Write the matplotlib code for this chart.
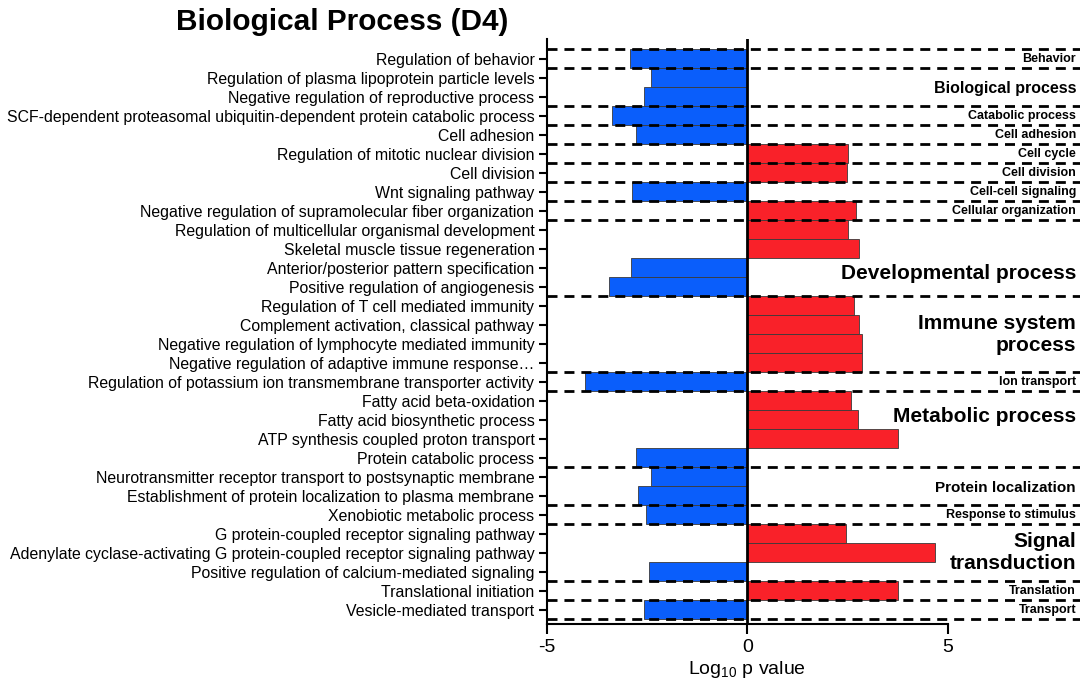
import matplotlib
matplotlib.use("Agg")
import matplotlib.pyplot as plt

plt.rcParams['font.family'] = ['Liberation Sans', 'DejaVu Sans']
plt.rcParams['mathtext.default'] = 'regular'
plt.rcParams['axes.unicode_minus'] = False

# GO terms, top to bottom
terms = [
    "Regulation of behavior",
    "Regulation of plasma lipoprotein particle levels",
    "Negative regulation of reproductive process",
    "SCF-dependent proteasomal ubiquitin-dependent protein catabolic process",
    "Cell adhesion",
    "Regulation of mitotic nuclear division",
    "Cell division",
    "Wnt signaling pathway",
    "Negative regulation of supramolecular fiber organization",
    "Regulation of multicellular organismal development",
    "Skeletal muscle tissue regeneration",
    "Anterior/posterior pattern specification",
    "Positive regulation of angiogenesis",
    "Regulation of T cell mediated immunity",
    "Complement activation, classical pathway",
    "Negative regulation of lymphocyte mediated immunity",
    "Negative regulation of adaptive immune response\u2026",
    "Regulation of potassium ion transmembrane transporter activity",
    "Fatty acid beta-oxidation",
    "Fatty acid biosynthetic process",
    "ATP synthesis coupled proton transport",
    "Protein catabolic process",
    "Neurotransmitter receptor transport to postsynaptic membrane",
    "Establishment of protein localization to plasma membrane",
    "Xenobiotic metabolic process",
    "G protein-coupled receptor signaling pathway",
    "Adenylate cyclase-activating G protein-coupled receptor signaling pathway",
    "Positive regulation of calcium-mediated signaling",
    "Translational initiation",
    "Vesicle-mediated transport",
]

log_p = [-2.92, -2.40, -2.59, -3.38, -2.78, 2.52, 2.49, -2.89, 2.71, 2.51,
         2.79, -2.90, -3.46, 2.66, 2.79, 2.86, 2.87, -4.06, 2.58, 2.75,
         3.77, -2.78, -2.40, -2.73, -2.53, 2.47, 4.68, -2.46, 3.77, -2.58]

# category groups: name, first row, last row, label row, font size
group_names = ["Behavior", "Biological process", "Catabolic process", "Cell adhesion",
               "Cell cycle", "Cell division", "Cell-cell signaling", "Cellular organization",
               "Developmental process", "Immune system\nprocess", "Ion transport",
               "Metabolic process", "Protein localization", "Response to stimulus",
               "Signal\ntransduction", "Translation", "Transport"]
group_first = [0, 1, 3, 4, 5, 6, 7, 8, 9, 13, 17, 18, 22, 24, 25, 28, 29]
group_last = [0, 2, 3, 4, 5, 6, 7, 8, 12, 16, 17, 21, 23, 24, 27, 28, 29]
group_label_row = [0, 1.55, 3, 4, 5, 6, 7, 8, 11.3, 14.5, 17, 18.8, 22.6, 24, 26, 28, 29]
group_fontsize = [9, 11.5, 9, 9, 9, 9, 9, 9, 15, 15, 9, 15, 11, 9, 15, 9, 9]

pos_color = '#F92129'
neg_color = '#0A5EFB'

fig = plt.figure(figsize=(10.87, 6.86), dpi=100)
ax = fig.add_axes([0.5032, 0.0904, 0.4904, 0.8528])

rows = list(range(len(terms)))
colors = [pos_color if v > 0 else neg_color for v in log_p]
ax.barh(rows, log_p, height=1.0, color=colors, edgecolor='#3a3a3a', linewidth=0.6, zorder=2)

ax.axvline(0, color='black', linewidth=2, zorder=4)

# dashed separators between groups
dash = (0, (3.6, 2.5))
ax.axhline(group_first[0] - 0.5, color='black', linewidth=2, linestyle=dash, zorder=3)
for last in group_last:
    ax.axhline(last + 0.5, color='black', linewidth=2, linestyle=dash, zorder=3)

for name, ry, fs in zip(group_names, group_label_row, group_fontsize):
    ax.text(8.2, ry, name, ha='right', va='center', fontsize=fs, fontweight='bold',
            linespacing=1.2, zorder=5)

ax.set_xlim(-5, 8.3)
ax.set_ylim(29.74, -1.05)
ax.set_yticks(rows)
ax.set_yticklabels(terms, fontsize=11.4)
ax.set_xticks([-5, 0, 5])
ax.tick_params(axis='x', labelsize=14, length=7, width=1.5, direction='out')
ax.tick_params(axis='y', length=6, width=1.5, direction='out', pad=3)

for s in ['top', 'right']:
    ax.spines[s].set_visible(False)
ax.spines['left'].set_linewidth(1.5)
ax.spines['bottom'].set_linewidth(1.5)
ax.spines['bottom'].set_bounds(-5, 5)

ax.set_xlabel('Log$_{10}$ p value', fontsize=14)
ax.xaxis.set_label_coords(5 / 13.3, -0.078)
ax.xaxis.label.set_va('center')

fig.text(0.162, 0.968, 'Biological Process (D4)', fontsize=21.4, fontweight='bold',
         ha='left', va='center')

fig.savefig('out.png', dpi=100)
